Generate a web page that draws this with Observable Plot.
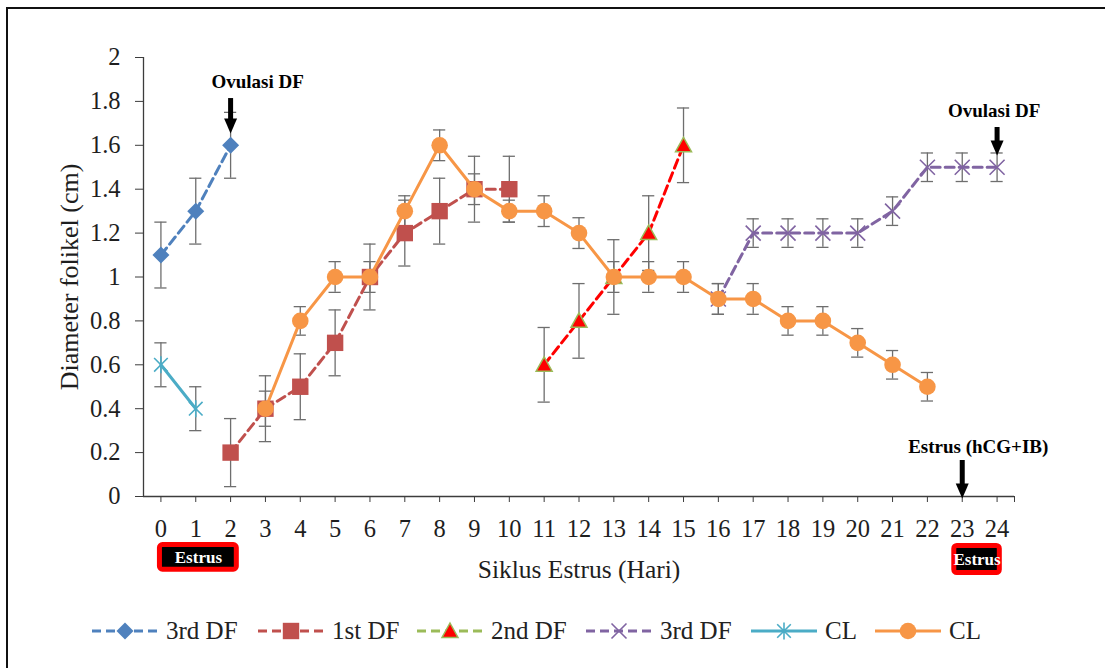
<!DOCTYPE html>
<html>
<head>
<meta charset="utf-8">
<script src="https://cdn.jsdelivr.net/npm/d3@7"></script>
<script src="https://cdn.jsdelivr.net/npm/@observablehq/plot@0.6"></script>
<style>
  body { margin:0; background:#fff; width:1105px; height:668px; overflow:hidden; position:relative;
         font-family:"Liberation Serif","Times New Roman",serif; }
  #frame { position:absolute; left:6px; top:7px; width:1110px; height:680px;
           border-left:2px solid #111; border-top:2.5px solid #111; pointer-events:none; }
  #chart { position:absolute; left:0; top:0; }
  .leg { position:absolute; top:618px; height:26px; display:flex; align-items:center;
         font-size:25px; color:#222; white-space:nowrap; }
  .leg svg { margin-right:8px; }
</style>
</head>
<body>
<div id="chart"></div>
<div id="legend"></div>
<div id="frame"></div>
<script>
// ---------- data ----------
const xTicks = [0,1,2,3,4,5,6,7,8,9,10,11,12,13,14,15,16,17,18,19,20,21,22,23,24];
const yTicks = [0,0.2,0.4,0.6,0.8,1,1.2,1.4,1.6,1.8,2];

const seriesNames = ["3rd DF","1st DF","2nd DF","3rd DF","CL","CL"];

const daysDF3a = [0,1,2];
const valsDF3a = [1.1,1.3,1.6];
const errsDF3a = [0.15,0.15,0.15];

const daysDF1 = [2,3,4,5,6,7,8,9,10];
const valsDF1 = [0.2,0.4,0.5,0.7,1.0,1.2,1.3,1.4,1.4];
const errsDF1 = [0.155,0.15,0.15,0.15,0.15,0.15,0.15,0.15,0.15];

const daysDF2 = [11,12,13,14,15];
const valsDF2 = [0.6,0.8,1.0,1.2,1.6];
const errsDF2 = [0.17,0.17,0.17,0.17,0.17];

const daysDF3b = [16,17,18,19,20,21,22,23,24];
const valsDF3b = [0.9,1.2,1.2,1.2,1.2,1.3,1.5,1.5,1.5];
const errsDF3b = [0.07,0.065,0.065,0.065,0.065,0.065,0.065,0.065,0.065];

const daysCLa = [0,1];
const valsCLa = [0.6,0.4];
const errsCLa = [0.1,0.1];

const daysCLb = [3,4,5,6,7,8,9,10,11,12,13,14,15,16,17,18,19,20,21,22];
const valsCLb = [0.4,0.8,1.0,1.0,1.3,1.6,1.4,1.3,1.3,1.2,1.0,1.0,1.0,0.9,0.9,0.8,0.8,0.7,0.6,0.5];
const errsCLb = [0.08,0.065,0.07,0.07,0.07,0.07,0.07,0.05,0.07,0.07,0.07,0.07,0.07,0.07,0.07,0.065,0.065,0.065,0.065,0.065];

// annotations
const annotLabels = ["Ovulasi DF","Ovulasi DF","Estrus (hCG+IB)"];
const annotDays   = [2,24,23];
const annotTextY  = [1.859,1.727,0.196];
const arrowTopY   = [1.813,1.681,0.164];
const arrowTipY   = [1.654,1.553,-0.009];

const estrusLabel = "Estrus";
const estrusStart = [-0.1,22.7];
const estrusEnd   = [2.25,24.15];
const estrusTop   = [-0.21,-0.214];
const estrusBot   = [-0.345,-0.36];

const xTitle = "Siklus Estrus (Hari)";
const yTitle = "Diameter folikel (cm)";

// ---------- symbols ----------
const R = s => Math.sqrt(s/Math.PI);
const symDiamond = {draw(c,s){const r=R(s);c.moveTo(0,-r);c.lineTo(r,0);c.lineTo(0,r);c.lineTo(-r,0);c.closePath();}};
const symSquare  = {draw(c,s){const r=R(s);c.moveTo(-r,-r);c.lineTo(r,-r);c.lineTo(r,r);c.lineTo(-r,r);c.closePath();}};
const symTri     = {draw(c,s){const r=R(s);c.moveTo(0,-r);c.lineTo(r,0.8*r);c.lineTo(-r,0.8*r);c.closePath();}};
const symX       = {draw(c,s){const r=R(s);c.moveTo(-r,-r);c.lineTo(r,r);c.moveTo(-r,r);c.lineTo(r,-r);}};
const symStar    = {draw(c,s){const r=R(s),q=r*0.8;c.moveTo(-q,-q);c.lineTo(q,q);c.moveTo(-q,q);c.lineTo(q,-q);c.moveTo(0,-r);c.lineTo(0,r);}};
const symHead    = {draw(c,s){c.moveTo(0,0);c.lineTo(-6.5,-15);c.lineTo(6.5,-15);c.closePath();}};

// ---------- series styles ----------
const styles = [
  {days:daysDF3a, vals:valsDF3a, errs:errsDF3a, line:"#4F81BD", dash:"9,5", sym:symDiamond, r:8.5, fill:"#4F81BD", stroke:"none", sw:0, leg:"#4F81BD", legDash:"9,5"},
  {days:daysDF1,  vals:valsDF1,  errs:errsDF1,  line:"#C0504D", dash:"9,5", sym:symSquare,  r:8.2, fill:"#C0504D", stroke:"none", sw:0, leg:"#C0504D", legDash:"9,5"},
  {days:daysDF2,  vals:valsDF2,  errs:errsDF2,  line:"#FF0000", dash:"9,5", sym:symTri,     r:8,   fill:"#FF0000", stroke:"#9BBB59", sw:1.5, leg:"#9BBB59", legDash:"9,5"},
  {days:daysDF3b, vals:valsDF3b, errs:errsDF3b, line:"#8064A2", dash:"9,5", sym:symX,       r:7.5, fill:"none",    stroke:"#8064A2", sw:1.6, leg:"#8064A2", legDash:"9,5"},
  {days:daysCLa,  vals:valsCLa,  errs:errsCLa,  line:"#4BACC6", dash:null,  sym:symStar,    r:8.5, fill:"none",    stroke:"#4BACC6", sw:1.6, leg:"#4BACC6", legDash:null},
  {days:daysCLb,  vals:valsCLb,  errs:errsCLb,  line:"#F79646", dash:null,  sym:null,       r:8.3, fill:"#F79646", stroke:"none", sw:0, leg:"#F79646", legDash:null}
];

const rows = styles.map((st,i) => st.days.map((d,j) => ({series:i, day:d, value:st.vals[j], err:st.errs[j]})));
const allRows = rows.flat();

const annots = annotLabels.map((t,i) => ({label:t, day:annotDays[i], ty:annotTextY[i], top:arrowTopY[i], tip:arrowTipY[i]}));
const estrus = estrusStart.map((s,i) => ({x1:s, x2:estrusEnd[i], y1:estrusTop[i], y2:estrusBot[i]}));

const axisColor = "#3c3c3c";
const errColor = "#6e6e6e";
const capHalf = 0.175;
const pxPerUnitY = 439 / 2;          // frame height / y span
const annotDx = [27, -3, 16];        // label offsets in px
const FONT = "'Liberation Serif','Times New Roman',serif";

const marks = [
  // error bars
  Plot.ruleX(allRows, {x:"day", y1:d=>d.value-d.err, y2:d=>d.value+d.err, stroke:errColor, strokeWidth:1.3}),
  Plot.ruleY(allRows, {y:d=>d.value+d.err, x1:d=>d.day-capHalf, x2:d=>d.day+capHalf, stroke:errColor, strokeWidth:1.3}),
  Plot.ruleY(allRows, {y:d=>d.value-d.err, x1:d=>d.day-capHalf, x2:d=>d.day+capHalf, stroke:errColor, strokeWidth:1.3}),
];
styles.forEach((st,i) => {
  marks.push(Plot.line(rows[i], {x:"day", y:"value", stroke:st.line, strokeWidth:3, strokeDasharray:st.dash || undefined}));
  marks.push(Plot.dot(rows[i], {x:"day", y:"value", r:st.r, symbol:st.sym || "circle", fill:st.fill, stroke:st.stroke, strokeWidth:st.sw}));
});

marks.push(
  // axes
  Plot.ruleY([0], {stroke:axisColor, strokeWidth:1.3}),
  Plot.ruleX([-0.5], {stroke:axisColor, strokeWidth:1.3}),
  Plot.axisY({ticks:yTicks, tickFormat:d=>String(d), tickSize:8, tickPadding:15, fontSize:24.5, fontFamily:FONT, color:"#1e1e1e", stroke:axisColor, label:null}),
  Plot.axisX({ticks:xTicks, tickFormat:d=>String(d), tickSize:6, tickPadding:17, fontSize:24.5, fontFamily:FONT, color:"#1e1e1e", stroke:axisColor, label:null}),
  Plot.axisX({ticks:[24.5], tickFormat:()=>"", tickSize:6, stroke:axisColor, label:null}),
  // titles
  Plot.text([xTitle], {text:d=>d, frameAnchor:"bottom", textAnchor:"middle", dy:81, lineAnchor:"bottom", fontSize:25.5, fontFamily:FONT, fill:"#1e1e1e"}),
  Plot.text([yTitle], {text:d=>d, frameAnchor:"left", textAnchor:"middle", rotate:-90, dx:-66, lineAnchor:"bottom", fontSize:26, fontFamily:FONT, fill:"#1e1e1e"}),
  // annotation arrows
  Plot.ruleX(annots, {x:"day", y1:"top", y2:d=>d.tip + 13/pxPerUnitY, stroke:"#000", strokeWidth:5}),
  Plot.dot(annots, {x:"day", y:"tip", symbol:symHead, r:8, fill:"#000", stroke:"none"}),
  // estrus boxes
  Plot.rect(estrus, {x1:"x1", x2:"x2", y1:"y1", y2:"y2", fill:"#000", stroke:"#FF0000", strokeWidth:5, rx:3, inset:2.5}),
  Plot.text(estrus, {x:d=>(d.x1+d.x2)/2, y:d=>(d.y1+d.y2)/2, text:()=>estrusLabel, fill:"#fff", fontSize:17, fontFamily:FONT, fontWeight:"bold", lineAnchor:"middle"})
);
annots.forEach((a,i) => {
  marks.push(Plot.text([a], {x:"day", y:"ty", text:"label", dx:annotDx[i], lineAnchor:"bottom", fontSize:19, fontFamily:FONT, fontWeight:"bold", fill:"#000"}));
});

const chart = Plot.plot({
  width:1105, height:600,
  marginLeft:143, marginRight:91, marginTop:57, marginBottom:104,
  x:{domain:[-0.5,24.5]},
  y:{domain:[0,2]},
  style:{fontFamily:FONT, fontSize:"23px", background:"transparent", color:"#1e1e1e", overflow:"visible"},
  marks
});
document.getElementById("chart").appendChild(chart);

// ---------- legend ----------
const legLeft = [92,258,417,586,751,875];
const legend = d3.select("#legend");
styles.forEach((st,i) => {
  const item = legend.append("div").attr("class","leg").style("left", legLeft[i]+"px");
  const svg = item.append("svg").attr("width",66).attr("height",26);
  svg.append("line").attr("x1",0).attr("x2",66).attr("y1",13).attr("y2",13)
     .attr("stroke",st.leg).attr("stroke-width",3).attr("stroke-dasharray",st.legDash);
  const sym = st.sym || d3.symbolCircle;
  svg.append("path").attr("transform","translate(33,13)")
     .attr("d", d3.symbol(sym, Math.PI*st.r*st.r)())
     .attr("fill", st.fill).attr("stroke", st.stroke === "none" ? null : st.stroke).attr("stroke-width", st.sw);
  item.append("span").text(seriesNames[i]);
});
</script>
</body>
</html>
